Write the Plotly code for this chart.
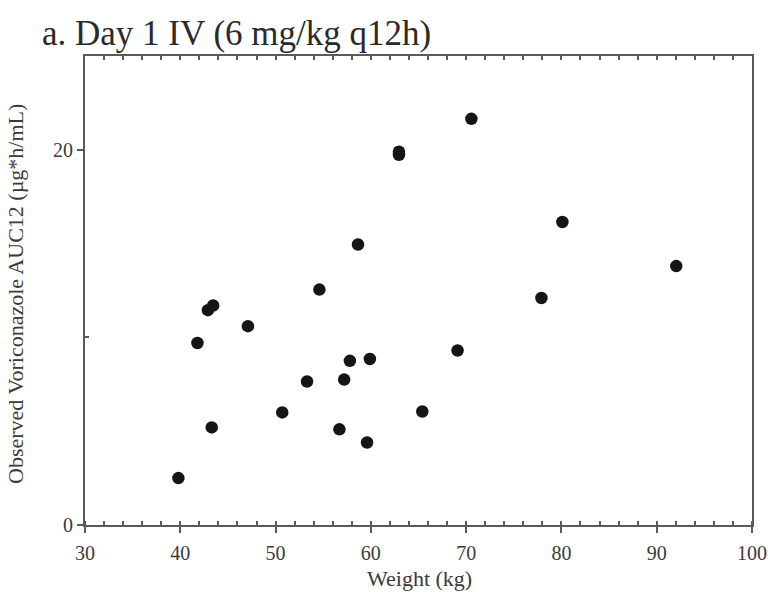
import plotly.graph_objects as go

weight = [39.8, 41.8, 42.9, 43.45, 43.3, 47.1, 50.7, 53.3, 54.6, 56.7, 57.2, 57.8,
          58.65, 59.6, 59.9, 62.95, 62.95, 65.4, 69.1, 70.55, 77.9, 80.1, 92.05]
auc12 = [2.5, 9.7, 11.45, 11.7, 5.2, 10.6, 6.0, 7.65, 12.55, 5.1, 7.75, 8.75,
         14.95, 4.4, 8.85, 19.9, 19.73, 6.05, 9.3, 21.65, 12.1, 16.15, 13.8]

x_ticks = [30, 40, 50, 60, 70, 80, 90, 100]
y_ticks = [0, 20]
y_minor = [10]

title_text = "a. Day 1 IV (6 mg/kg q12h)"
x_title = "Weight (kg)"
y_title = "Observed Voriconazole AUC12 (µg*h/mL)"

serif = "Liberation Serif, Times New Roman, serif"
axis_col = "#5a5a5a"
text_col = "#3a3a3a"

W, H = 768, 592
L, R, T, B = 85, 16, 56, 67
pw, ph = W - L - R, H - T - B

def px(xp):
    return (xp - L) / pw

def py(yp):
    return (H - B - yp) / ph

fig = go.Figure()
fig.add_trace(go.Scatter(
    x=weight, y=auc12, mode="markers",
    marker=dict(size=12.5, color="#151515", line=dict(width=0)),
    showlegend=False, hoverinfo="x+y"))
fig.add_trace(go.Scatter(x=[30], y=[0], xaxis="x2", yaxis="y", mode="markers",
                         marker=dict(size=0, opacity=0), showlegend=False, hoverinfo="skip"))

fig.update_layout(
    width=W, height=H,
    margin=dict(l=L, r=R, t=T, b=B, autoexpand=False),
    paper_bgcolor="white", plot_bgcolor="white",
    font=dict(family=serif, color=text_col),
    xaxis=dict(
        range=[30, 100], tickvals=x_ticks, ticks="outside", ticklen=6, tickwidth=2,
        tickcolor=axis_col, showline=True, linecolor=axis_col, linewidth=2,
        mirror=True, showgrid=False, zeroline=False, automargin=False,
        ticklabelstandoff=3,
        tickfont=dict(size=20, color=text_col, family=serif),
        minor=dict(dtick=2, tick0=30, ticks="inside", ticklen=4, tickwidth=1.5,
                   tickcolor=axis_col, showgrid=False),
    ),
    xaxis2=dict(
        overlaying="x", side="top", range=[30, 100], matches="x",
        showticklabels=False, ticks="inside", ticklen=0, tickvals=x_ticks,
        showline=False, showgrid=False, zeroline=False, automargin=False,
        minor=dict(dtick=2, tick0=30, ticks="inside", ticklen=4, tickwidth=1.5,
                   tickcolor=axis_col, showgrid=False),
    ),
    yaxis=dict(
        range=[0, 25], tickvals=y_ticks, ticks="outside", ticklen=6, tickwidth=2,
        tickcolor=axis_col, showline=True, linecolor=axis_col, linewidth=2,
        mirror=True, showgrid=False, zeroline=False, automargin=False,
        tickfont=dict(size=20, color=text_col, family=serif),
        minor=dict(tickvals=y_minor, ticks="inside", ticklen=4, tickwidth=1.5,
                   tickcolor=axis_col, showgrid=False),
    ),
    annotations=[
        dict(text=title_text, x=px(40), y=py(34), xref="paper", yref="paper",
             showarrow=False, xanchor="left", yanchor="middle",
             font=dict(size=35, color="#2a2a2a", family=serif)),
        dict(text=x_title, x=px(419), y=py(578), xref="paper", yref="paper",
             showarrow=False, xanchor="center", yanchor="middle",
             font=dict(size=22, color=text_col, family=serif)),
        dict(text=y_title, x=px(15), y=py(294), xref="paper", yref="paper",
             showarrow=False, xanchor="center", yanchor="middle", textangle=-90,
             font=dict(size=22, color=text_col, family=serif)),
    ],
)

fig.write_html("out.html")
